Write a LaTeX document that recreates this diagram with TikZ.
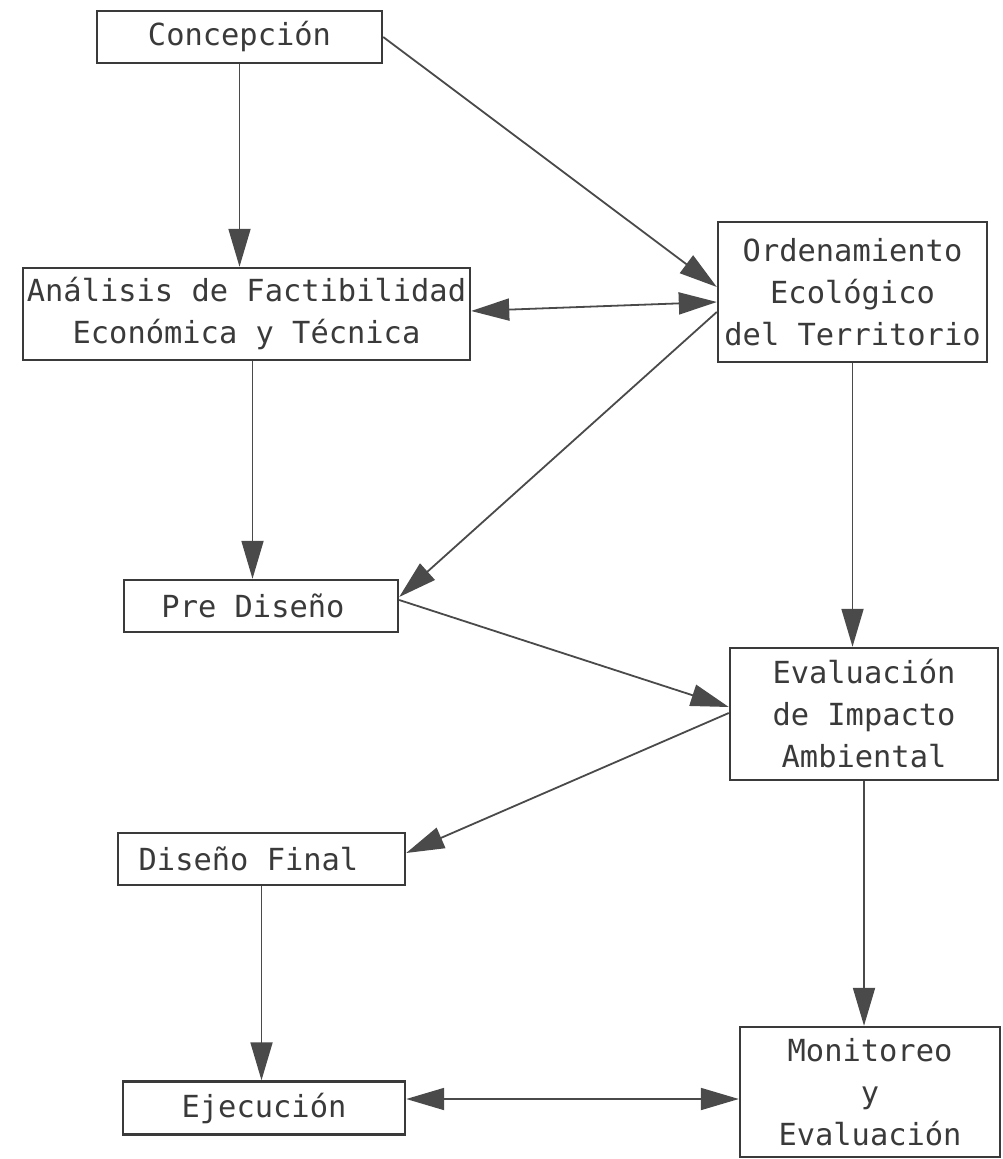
\documentclass[tikz,border=0pt]{standalone}
\usepackage{fontspec}
\newfontfamily\plotfont{DejaVu Sans Mono}
\usetikzlibrary{arrows.meta}
\definecolor{inkc}{HTML}{3A3A3A}
\definecolor{linec}{HTML}{4A4A4A}
\tikzset{
  box/.style={draw=inkc, line width=1.2pt, rectangle, inner sep=0pt, align=center,
    text=inkc, font=\plotfont\fontsize{15.2}{21}\selectfont},
  conn/.style={draw=linec, line width=0.9pt, -{Triangle[length=19pt,width=11pt]}},
  both/.style={draw=linec, line width=0.9pt, {Triangle[length=19pt,width=11pt]}-{Triangle[length=19pt,width=11pt]}}
}
\begin{document}
\begin{tikzpicture}[x=0.5pt,y=-0.5pt]
\useasboundingbox[fill=white] (0,0) rectangle (1002,1159);
\node[box, minimum width=142.5pt, minimum height=26pt] (con) at (239.5,37) {Concepción};
\node[box, minimum width=223.5pt, minimum height=46pt] (ana) at (246.5,314) {Análisis de Factibilidad\\Económica y Técnica};
\node[box, minimum width=134.5pt, minimum height=70pt] (ord) at (852.5,292) {Ordenamiento\\Ecológico\\del Territorio};
\node[box, minimum width=137pt, minimum height=26pt] (pre) at (261,606) {Pre Diseño\hspace*{8pt}};
\node[box, minimum width=134pt, minimum height=66pt] (eva) at (864,714) {Evaluación\\de Impacto\\Ambiental};
\node[box, minimum width=143.5pt, minimum height=26pt] (dis) at (261.5,859) {Diseño Final\hspace*{13pt}};
\node[box, minimum width=141pt, minimum height=26.5pt] (eje) at (264,1108) {Ejecución};
\node[box, minimum width=130pt, minimum height=65pt] (mon) at (870,1092) {Monitoreo\\y\\Evaluación};

\draw[conn] (con.south) -- (con.south |- ana.north);
\draw[conn] (con.east) -- ([yshift=2.5pt]ord.west);
\draw[both] ([yshift=1.5pt]ana.east) -- ([yshift=-5pt]ord.west);
\draw[conn] ([xshift=3pt]ana.south) -- ([xshift=3pt]ana.south |- pre.north);
\draw[conn] ([yshift=-10pt]ord.west) -- ([yshift=4.5pt]pre.east);
\draw[conn] ([yshift=3pt]pre.east) -- ([yshift=3.5pt]eva.west);
\draw[conn] (ord.south) -- (ord.south |- eva.north);
\draw[conn] ([yshift=0.5pt]eva.west) -- ([yshift=3pt]dis.east);
\draw[conn] (dis.south) -- (dis.south |- eje.north);
\draw[conn] (eva.south) -- (eva.south |- mon.north);
\draw[both] ([yshift=4.5pt]eje.east) -- ([yshift=4.5pt]eje.east -| mon.west);
\end{tikzpicture}
\end{document}
